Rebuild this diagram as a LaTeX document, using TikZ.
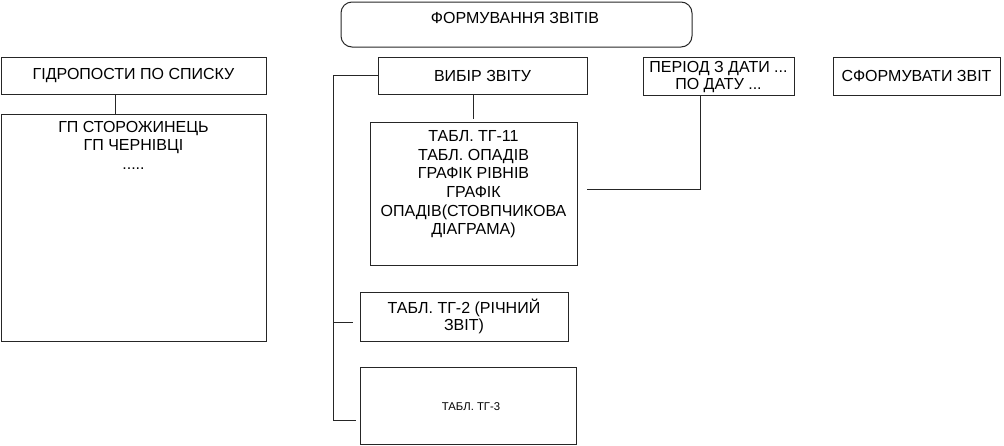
\documentclass[tikz,border=0pt]{standalone}
\usepackage{fontspec}
\setmainfont{Liberation Sans}
\begin{document}
\begin{tikzpicture}[x=1pt,y=-1pt,
  box/.style={draw=black!85,line width=1pt,inner sep=0pt,minimum width=#1},
  txt/.style={inner sep=0pt,align=center,font=\fontsize{16}{18.6}\selectfont},
  small/.style={inner sep=0pt,align=center,font=\fontsize{11.3}{13}\selectfont},
  conn/.style={draw=black!85,line width=1pt}]
\useasboundingbox (0,0) rectangle (1004,445);
% boxes
\node[box=351pt,minimum height=45pt,rounded corners=11pt] (title) at (516.5,24.5) {};
\node[txt] (titletext) at (515,17.5) {ФОРМУВАННЯ ЗВІТІВ};
\node[box=265pt,minimum height=37pt,txt] (gid) at (133.5,75.5) {ГІДРОПОСТИ ПО СПИСКУ};
\node[box=265pt,minimum height=227pt] (list) at (133.5,227.5) {};
\node[txt,anchor=north] (listtext) at (133.5,121) {ГП СТОРОЖИНЕЦЬ\\ГП ЧЕРНІВЦІ\\.....};
\node[box=209pt,minimum height=37pt,txt] (vybir) at (482.5,75.5) {ВИБІР ЗВІТУ};
\node[box=207pt,minimum height=143pt] (tabl) at (473.5,193.5) {};
\node[txt,anchor=north] (tabltext) at (473.5,130.5) {ТАБЛ. ТГ-11\\ТАБЛ. ОПАДІВ\\ГРАФІК РІВНІВ\\ГРАФІК\\ОПАДІВ(СТОВПЧИКОВА\\ДІАГРАМА)};
\node[box=151pt,minimum height=38pt] (period) at (718.5,76) {};
\node[txt,font=\fontsize{16}{17}\selectfont] (periodtext) at (718.5,77.5) {ПЕРІОД З ДАТИ ...\\ПО ДАТУ ...};
\node[box=167pt,minimum height=38pt,txt] (sform) at (916.5,76) {СФОРМУВАТИ ЗВІТ};
\node[box=208pt,minimum height=49pt,txt,font=\fontsize{16}{17}\selectfont] (tg2) at (464,316.5) {ТАБЛ. ТГ-2 (РІЧНИЙ\\ЗВІТ)};
\node[box=216pt,minimum height=77pt] (tg3) at (468,405.5) {};
\node[small] (tg3text) at (471,407) {ТАБЛ. ТГ-3};
% helper coordinates
\coordinate (gx) at (115,0);
\coordinate (bus) at (333,0);
\coordinate (b2) at (353,322);
\coordinate (b3) at (356,420);
\coordinate (vt) at (473,119);
\coordinate (tp) at (587,189);
\coordinate (px) at (700,0);
% connectors
\draw[conn] (gx |- gid.south) -- (gx |- list.north);
\draw[conn] (vt |- vybir.south) -- (vt);
\draw[conn] (vybir.west) -| (bus |- b3) -- (b3);
\draw[conn] (bus |- b2) -- (b2);
\draw[conn] (tp) -| (px |- period.south);
\end{tikzpicture}
\end{document}
